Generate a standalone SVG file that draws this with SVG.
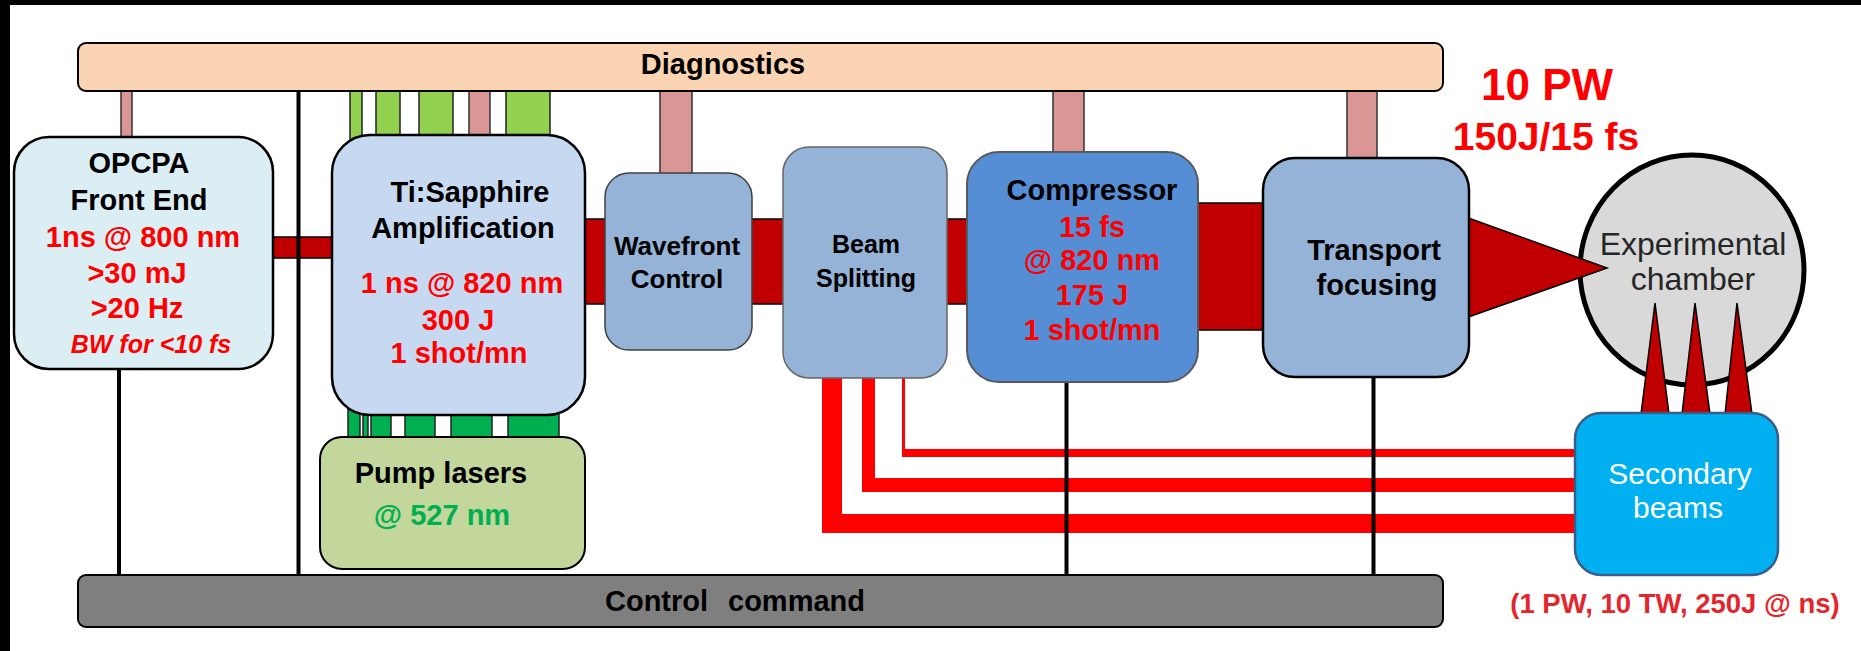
<svg xmlns="http://www.w3.org/2000/svg" width="1861" height="651" viewBox="0 0 1861 651">
<style>
text{font-family:"Liberation Sans",Arial,sans-serif;font-weight:bold;font-size:29px;text-anchor:middle;fill:#000}
.r{fill:#ff0000}
.g{fill:#00b050}
.reg{font-weight:normal}
.pink{fill:#d99694;stroke:#333;stroke-width:1.5}
.lg{fill:#92d050;stroke:#222;stroke-width:1.5}
.dg{fill:#00b050;stroke:#222;stroke-width:1.5}
.beam{fill:#c00000;stroke:#000;stroke-width:1.5}
.sec{fill:#ff0000}
.ctl{stroke:#000;stroke-width:4;fill:none}
</style>
<rect x="0" y="0" width="1861" height="651" fill="#fff"/>
<rect x="0" y="0" width="1861" height="5" fill="#000"/>
<rect x="0" y="0" width="10" height="651" fill="#000"/>

<g id="chamber">
<ellipse cx="1692" cy="270" rx="112" ry="115" fill="#d9d9d9" stroke="#000" stroke-width="5"/>
<text class="reg" x="1693" y="255" style="font-size:32px;fill:#262626">Experimental</text>
<text class="reg" x="1693" y="290" style="font-size:32px;fill:#262626">chamber</text>
</g>

<g id="connectors">
<rect class="pink" x="121" y="85" width="11" height="56"/>
<rect class="pink" x="469" y="85" width="21" height="56"/>
<rect class="pink" x="660" y="85" width="32" height="92"/>
<rect class="pink" x="1053" y="85" width="31" height="70"/>
<rect class="pink" x="1347" y="85" width="30" height="76"/>
<rect class="lg" x="350" y="85" width="12" height="65"/>
<rect class="lg" x="376" y="85" width="24" height="60"/>
<rect class="lg" x="419" y="85" width="34" height="60"/>
<rect class="lg" x="506" y="85" width="44" height="60"/>
<rect class="dg" x="348" y="400" width="12" height="42"/>
<rect class="dg" x="363" y="400" width="5" height="42"/>
<rect class="dg" x="371" y="400" width="20" height="42"/>
<rect class="dg" x="405" y="400" width="30" height="42"/>
<rect class="dg" x="451" y="400" width="41" height="42"/>
<rect class="dg" x="508" y="400" width="51" height="42"/>
<rect class="beam" x="266" y="237" width="74" height="21"/>
<rect class="beam" x="578" y="219" width="397" height="85"/>
<rect class="beam" x="1190" y="203" width="82" height="127"/>
<polygon class="beam" points="1460,215 1607,268 1460,320"/>
<polygon class="beam" points="1641,414 1655,303 1669,414"/>
<polygon class="beam" points="1682,414 1695,303 1710,414"/>
<polygon class="beam" points="1725,414 1737,303 1752,414"/>
<path class="sec" d="M822,370 H842 V514 H1580 V533 H822 Z"/>
<path class="sec" d="M862,370 H875 V478 H1580 V492 H862 Z"/>
<path class="sec" d="M902,370 H905 V449 H1580 V457 H902 Z"/>
<line class="ctl" x1="119" y1="360" x2="119" y2="580"/>
<line class="ctl" x1="298.5" y1="85" x2="298.5" y2="580"/>
<line class="ctl" x1="1066.5" y1="375" x2="1066.5" y2="580"/>
<line class="ctl" x1="1373.5" y1="370" x2="1373.5" y2="580"/>
</g>

<g id="diagnostics">
<rect x="78" y="43" width="1365" height="48" rx="8" fill="#fbd4b4" stroke="#000" stroke-width="2"/>
<text x="723" y="74">Diagnostics</text>
</g>

<g id="control">
<rect x="78" y="575" width="1365" height="52" rx="8" fill="#7f7f7f" stroke="#000" stroke-width="2"/>
<text x="605" y="611" style="text-anchor:start">Control<tspan x="728">command</tspan></text>
</g>

<g id="opcpa">
<rect x="14" y="137" width="259" height="232" rx="35" fill="#dbeef3" stroke="#000" stroke-width="2.5"/>
<text x="139" y="173">OPCPA</text>
<text x="139" y="210">Front End</text>
<text class="r" x="143" y="247">1ns @ 800 nm</text>
<text class="r" x="137" y="283">&gt;30 mJ</text>
<text class="r" x="137" y="318">&gt;20 Hz</text>
<text class="r" x="151" y="353" style="font-size:25px;font-style:italic">BW for &lt;10 fs</text>
</g>

<g id="tisapphire">
<rect x="332" y="135" width="253" height="280" rx="38" fill="#c6d9f1" stroke="#000" stroke-width="2.5"/>
<text x="470" y="202">Ti:Sapphire</text>
<text x="463" y="238">Amplification</text>
<text class="r" x="462" y="293">1 ns @ 820 nm</text>
<text class="r" x="458" y="330">300 J</text>
<text class="r" x="459" y="363">1 shot/mn</text>
</g>

<g id="pump">
<rect x="320" y="437" width="265" height="132" rx="22" fill="#c3d69b" stroke="#000" stroke-width="2"/>
<text x="441" y="483">Pump lasers</text>
<text class="g" x="442" y="525">@ 527 nm</text>
</g>

<g id="wavefront">
<rect x="605" y="173" width="147" height="177" rx="24" fill="#95b3d7" stroke="#404040" stroke-width="1.5"/>
<text x="677" y="255" style="font-size:26px">Wavefront</text>
<text x="677" y="288" style="font-size:26px">Control</text>
</g>

<g id="beamsplit">
<rect x="783" y="147" width="164" height="231" rx="26" fill="#95b3d7" stroke="#666" stroke-width="1.5"/>
<text x="866" y="253" style="font-size:25px">Beam</text>
<text x="866" y="287" style="font-size:25px">Splitting</text>
</g>

<g id="compressor">
<rect x="967" y="152" width="231" height="230" rx="32" fill="#558ed5" stroke="#595959" stroke-width="2"/>
<text x="1092" y="200">Compressor</text>
<text class="r" x="1092" y="237">15 fs</text>
<text class="r" x="1092" y="270">@ 820 nm</text>
<text class="r" x="1092" y="305">175 J</text>
<text class="r" x="1092" y="340">1 shot/mn</text>
</g>

<g id="transport">
<rect x="1263" y="158" width="206" height="219" rx="32" fill="#95b3d7" stroke="#000" stroke-width="2.5"/>
<text x="1374" y="260">Transport</text>
<text x="1377" y="295">focusing</text>
</g>

<g id="secondary">
<rect x="1575" y="413" width="203" height="162" rx="26" fill="#00b0f0" stroke="#385d8a" stroke-width="2.5"/>
<text class="reg" x="1680" y="484" style="font-size:30px;fill:#fff">Secondary</text>
<text class="reg" x="1678" y="518" style="font-size:30px;fill:#fff">beams</text>
<text x="1675" y="613" style="font-size:27.5px;fill:#e3262b">(1 PW, 10 TW, 250J @ ns)</text>
</g>

<g id="output-label">
<text class="r" x="1547" y="100" style="font-size:44px">10 PW</text>
<text class="r" x="1546" y="150" style="font-size:39px">150J/15 fs</text>
</g>
</svg>
